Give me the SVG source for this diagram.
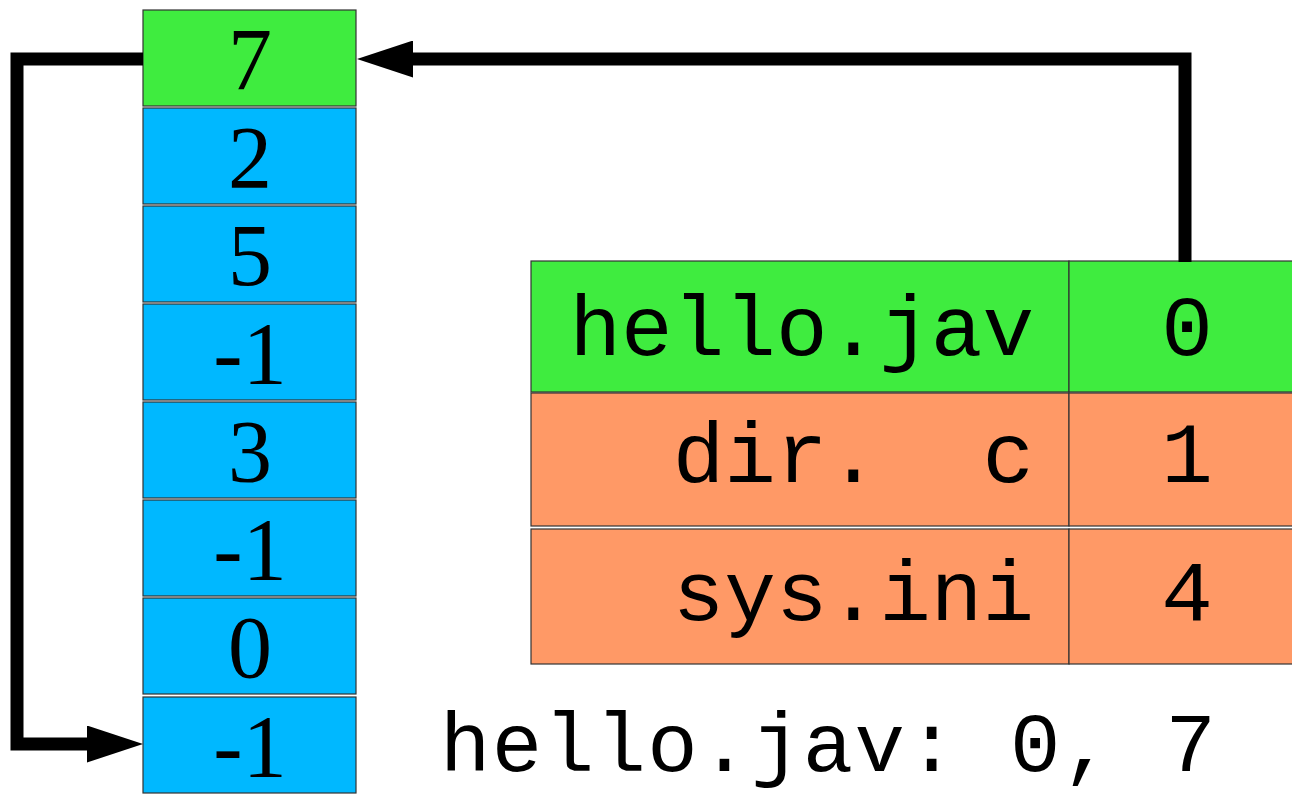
<svg xmlns="http://www.w3.org/2000/svg" width="1292" height="798" viewBox="0 0 1292 798">
<style>
.cell{stroke:#333;stroke-width:1.2}
.blue{fill:#00b8ff}
.green{fill:#3fec3f}
.orange{fill:#ff9966}
.num{font-family:"Liberation Serif","Times New Roman",serif;font-size:88px;fill:#000;text-anchor:middle}
.mono{font-family:"Liberation Mono","Courier New",monospace;font-size:86px;fill:#000}
.cap{font-size:84px}
.end{text-anchor:end}
.mid{text-anchor:middle}
.conn{fill:none;stroke:#000;stroke-width:13;stroke-linejoin:miter}
</style>
<defs>
<marker id="ah" markerUnits="userSpaceOnUse" markerWidth="56" markerHeight="37" viewBox="0 0 56 37" refX="1" refY="18.5" orient="auto">
<path d="M0,0 L56,18.5 L0,37 z" fill="#000"/>
</marker>
</defs>
<rect width="1292" height="798" fill="#fff"/>
<g id="cell0"><rect class="cell green" x="143" y="10" width="213" height="96"/><text class="num" x="250" y="89">7</text></g>
<g id="cell1"><rect class="cell blue" x="143" y="108" width="213" height="96"/><text class="num" x="250" y="187">2</text></g>
<g id="cell2"><rect class="cell blue" x="143" y="206" width="213" height="96"/><text class="num" x="250" y="285">5</text></g>
<g id="cell3"><rect class="cell blue" x="143" y="304" width="213" height="96"/><text class="num" x="250" y="383">-1</text></g>
<g id="cell4"><rect class="cell blue" x="143" y="402" width="213" height="96"/><text class="num" x="250" y="481">3</text></g>
<g id="cell5"><rect class="cell blue" x="143" y="500" width="213" height="96"/><text class="num" x="250" y="579">-1</text></g>
<g id="cell6"><rect class="cell blue" x="143" y="598" width="213" height="96"/><text class="num" x="250" y="677">0</text></g>
<g id="cell7"><rect class="cell blue" x="143" y="697" width="213" height="96"/><text class="num" x="250" y="776">-1</text></g>
<g id="row-hello">
<rect class="cell green" x="531" y="261" width="538" height="131"/>
<rect class="cell green" x="1069" y="261" width="240" height="131"/>
<text class="mono end" x="1034" y="355" xml:space="preserve">hello.jav</text>
<text class="mono mid" x="1187" y="355">0</text>
</g>
<g id="row-dir">
<rect class="cell orange" x="531" y="393" width="538" height="133"/>
<rect class="cell orange" x="1069" y="393" width="240" height="133"/>
<text class="mono end" x="1034" y="482" xml:space="preserve">dir.  c</text>
<text class="mono mid" x="1187" y="482">1</text>
</g>
<g id="row-sys">
<rect class="cell orange" x="531" y="529" width="538" height="135"/>
<rect class="cell orange" x="1069" y="529" width="240" height="135"/>
<text class="mono end" x="1034" y="620" xml:space="preserve">sys.ini</text>
<text class="mono mid" x="1187" y="620">4</text>
</g>
<g id="caption"><text class="mono cap" x="440" y="771" textLength="776" lengthAdjust="spacing" xml:space="preserve">hello.jav: 0, 7</text></g>
<g id="connectors">
<path class="conn" d="M1185,262 V59 H412" marker-end="url(#ah)"/>
<path class="conn" d="M143,59 H17 V744 H88" marker-end="url(#ah)"/>
</g>
</svg>
